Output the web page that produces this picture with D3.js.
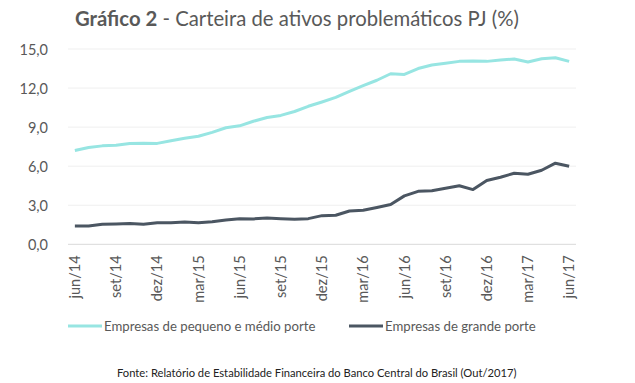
<!DOCTYPE html>
<html><head><meta charset="utf-8">
<script src="https://cdn.jsdelivr.net/npm/d3@7"></script>
<style>
body{margin:0;background:#fff;}
svg text{font-family:Lato,"Open Sans",sans-serif;fill:#595959;}
</style></head>
<body><svg id="c" width="635" height="383"></svg>
<script>
const monthNames = ["jan","fev","mar","abr","mai","jun","jul","ago","set","out","nov","dez"];
const categories = [];
for (let i = 0; i < 37; i++) { const m = (5 + i) % 12; const y = 14 + Math.floor((5 + i) / 12); categories.push(monthNames[m] + "/" + y); }
const smallMedium = [7.2,7.43,7.56,7.6,7.74,7.77,7.75,7.95,8.15,8.3,8.6,8.95,9.1,9.45,9.74,9.9,10.2,10.6,10.93,11.28,11.74,12.18,12.6,13.1,13.05,13.5,13.77,13.9,14.05,14.07,14.05,14.15,14.23,14.0,14.25,14.33,14.05];
const large = [1.41,1.41,1.54,1.56,1.6,1.54,1.66,1.66,1.71,1.66,1.74,1.87,1.97,1.95,2.02,1.97,1.92,1.97,2.2,2.23,2.56,2.61,2.82,3.05,3.72,4.07,4.12,4.3,4.5,4.2,4.9,5.15,5.46,5.38,5.69,6.23,6.0];
const yTicks = [0,3,6,9,12,15];
const xTickLabels = categories.filter((d,i)=>i%3===0);
const seriesNames = ["Empresas de pequeno e médio porte","Empresas de grande porte"];
const colors = ["#97e5e2","#4b5662"];

const svg = d3.select("#c");
const L = 68, R = 576, T = 49, B = 244.3;
const x = d3.scaleBand().domain(categories).range([L, R]);
const y = d3.scaleLinear().domain([0, 15]).range([B, T]);
const fmt = v => v.toFixed(1).replace(".", ",");

// title
const title = svg.append("text").attr("x", 75).attr("y", 26).style("font-size", "20.3px");
title.append("tspan").attr("font-weight", "bold").text("Gráfico 2");
title.append("tspan").text(" - Carteira de ativos problemáticos PJ (%)");

// grid
svg.append("g").selectAll("line").data(yTicks.filter(d=>d>0)).join("line")
  .attr("x1", L).attr("x2", R).attr("y1", d=>y(d)).attr("y2", d=>y(d))
  .attr("stroke", "#efefef").attr("stroke-width", 1);
svg.append("line").attr("x1", L).attr("x2", R).attr("y1", y(0)).attr("y2", y(0)).attr("stroke", "#d9d9d9");

// y axis
const yAxis = d3.axisLeft(y).tickValues(yTicks).tickFormat(fmt).tickSize(0).tickPadding(0);
const yg = svg.append("g").attr("transform", `translate(48,0)`).call(yAxis);
yg.select(".domain").remove();
yg.selectAll("text").style("font-size", "14.5px").attr("fill", "#595959").attr("dy", "0.35em");

// x axis
const xAxis = d3.axisBottom(x).tickValues(xTickLabels).tickSize(0);
const xg = svg.append("g").attr("transform", `translate(0,${B})`).call(xAxis);
xg.select(".domain").remove();
xg.selectAll("text").style("font-size", "14.6px").attr("fill", "#595959")
  .attr("text-anchor", "end").attr("transform", "rotate(-90)")
  .attr("x", -11).attr("y", 0).attr("dy", "0.35em");

// lines
const line = d3.line().x((d,i)=>x(categories[i]) + x.bandwidth()/2).y(d=>y(d));
[smallMedium, large].forEach((s, k) => {
  svg.append("path").datum(s).attr("d", line).attr("fill", "none")
    .attr("stroke", colors[k]).attr("stroke-width", 3).attr("stroke-linejoin", "round");
});

// legend
const legX = [68, 349];
seriesNames.forEach((n, k) => {
  const g = svg.append("g").attr("transform", `translate(${legX[k]},326)`);
  g.append("line").attr("x1", 0).attr("x2", 34).attr("stroke", colors[k]).attr("stroke-width", 3);
  g.append("text").attr("x", 36).attr("dy", "0.35em").style("font-size", "13.2px").text(n);
});

// source
svg.append("text").attr("x", 117).attr("y", 377).style("font-size", "11.2px")
  .style("fill", "#222").text("Fonte: Relatório de Estabilidade Financeira do Banco Central do Brasil (Out/2017)");
</script></body></html>
